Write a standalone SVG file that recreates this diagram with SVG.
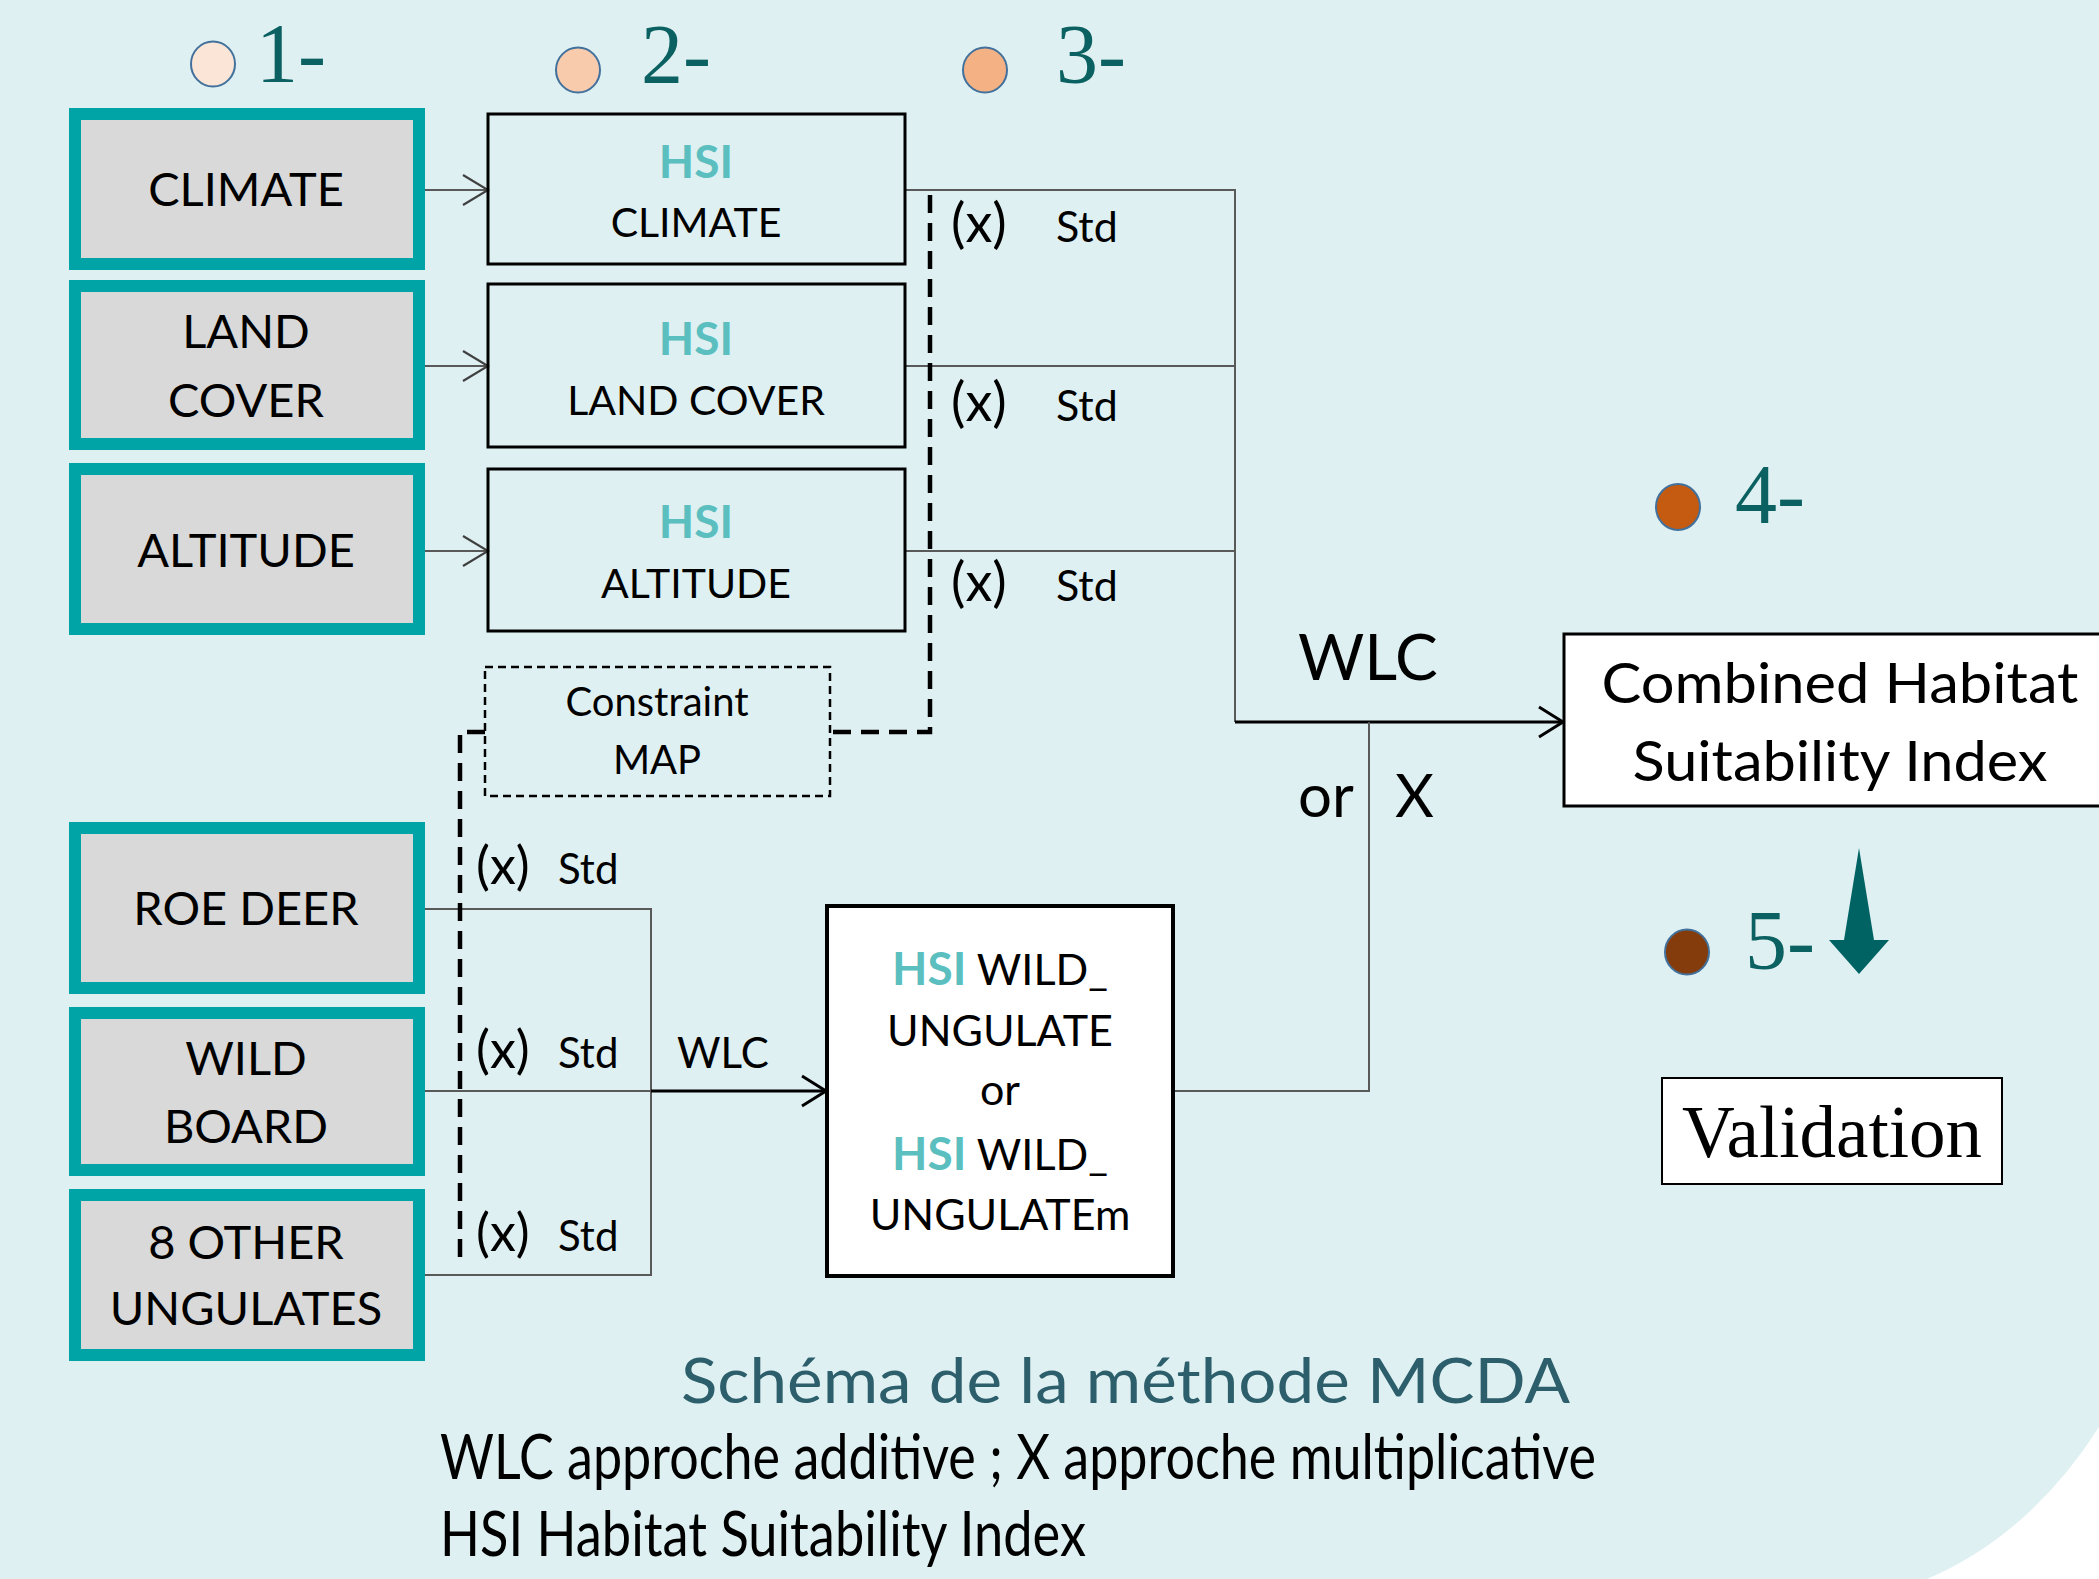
<svg xmlns="http://www.w3.org/2000/svg" width="2099" height="1579" viewBox="0 0 2099 1579">
<defs>
<style>
.src{fill:#D9D9D9;stroke:#00A4A6;stroke-width:12}
.hsi{fill:none;stroke:#000;stroke-width:3}
.t{font-family:Lato,"Open Sans",sans-serif;fill:#000;text-anchor:middle}
.tl{font-family:Lato,"Open Sans",sans-serif;fill:#000}
.teal{fill:#5BBFBF;font-weight:bold}
.num{font-family:"Liberation Serif","Times New Roman",serif;font-size:84px;fill:#0B6161}
.dot{stroke:#41719C;stroke-width:2}
.thin{fill:none;stroke:#595959;stroke-width:2}
.thick{fill:none;stroke:#000;stroke-width:3}
.dash{fill:none;stroke:#000;stroke-width:4.5;stroke-dasharray:18 10}
</style>
<marker id="chev" viewBox="0 0 30 34" refX="28" refY="17" markerWidth="30" markerHeight="34" markerUnits="userSpaceOnUse" orient="auto">
<path d="M3,2 L28,17 L3,32" fill="none" stroke="#404040" stroke-width="2.2"/>
</marker>
<marker id="chevB" viewBox="0 0 30 34" refX="27" refY="17" markerWidth="30" markerHeight="34" markerUnits="userSpaceOnUse" orient="auto">
<path d="M3,2 L27,17 L3,32" fill="none" stroke="#000" stroke-width="3"/>
</marker>
</defs>
<path d="M0,0 H2099 V1427 Q2030,1535 1927,1579 H0 Z" fill="#DFF0F2"/>

<g id="steps">
<ellipse class="dot" cx="213" cy="64" rx="22" ry="22.5" fill="#FBE5D6"/>
<text class="num" x="256" y="82">1-</text>
<ellipse class="dot" cx="578" cy="70" rx="22" ry="22.5" fill="#F8CBAD"/>
<text class="num" x="641" y="83">2-</text>
<ellipse class="dot" cx="985" cy="70" rx="22" ry="22.5" fill="#F4B183"/>
<text class="num" x="1056" y="83">3-</text>
<ellipse class="dot" cx="1678" cy="507" rx="22" ry="23" fill="#C55A11"/>
<text class="num" x="1735" y="523">4-</text>
<ellipse class="dot" cx="1687" cy="952" rx="22" ry="22.5" fill="#843C0C"/>
<text class="num" x="1745" y="969">5-</text>
<polygon points="1859,848 1874,940 1889,940 1859,974 1829,940 1844,940" fill="#006363"/>
</g>

<g id="connectors">
<line class="thin" x1="421" y1="190" x2="488" y2="190" marker-end="url(#chev)"/>
<line class="thin" x1="421" y1="366" x2="488" y2="366" marker-end="url(#chev)"/>
<line class="thin" x1="421" y1="551" x2="488" y2="551" marker-end="url(#chev)"/>
<polyline class="thin" points="905,190 1235,190 1235,722"/>
<line class="thin" x1="905" y1="366" x2="1235" y2="366"/>
<line class="thin" x1="905" y1="551" x2="1235" y2="551"/>
<line class="thick" x1="1235" y1="722" x2="1563" y2="722" marker-end="url(#chevB)"/>
<polyline class="thin" points="1369,722 1369,1091 1173,1091"/>
<polyline class="thin" points="422,909 651,909 651,1275 422,1275"/>
<line class="thin" x1="422" y1="1091" x2="651" y2="1091"/>
<line class="thick" x1="651" y1="1091" x2="826" y2="1091" marker-end="url(#chevB)"/>
<polyline class="dash" points="930,195 930,732 830,732"/>
<polyline class="dash" points="485,732 460,732 460,1260"/>
</g>

<g id="labels">
<text class="tl" x="951" y="242" font-size="54">(x)</text><text class="tl" x="1056" y="242" font-size="43">Std</text>
<text class="tl" x="951" y="421" font-size="54">(x)</text><text class="tl" x="1056" y="421" font-size="43">Std</text>
<text class="tl" x="951" y="601" font-size="54">(x)</text><text class="tl" x="1056" y="601" font-size="43">Std</text>
<text class="tl" x="476" y="884" font-size="52">(x)</text><text class="tl" x="558" y="884" font-size="42">Std</text>
<text class="tl" x="476" y="1068" font-size="52">(x)</text><text class="tl" x="558" y="1068" font-size="42">Std</text>
<text class="tl" x="476" y="1251" font-size="52">(x)</text><text class="tl" x="558" y="1251" font-size="42">Std</text>
<text class="tl" x="677" y="1068" font-size="42">WLC</text>
<text class="tl" x="1298" y="680" font-size="64">WLC</text>
<text class="tl" x="1298" y="817" font-size="60">or</text>
<text class="tl" x="1395" y="817" font-size="60">X</text>
</g>

<g id="climate"><rect class="src" x="75" y="114" width="344" height="150"/><text class="t" x="246" y="206" font-size="47">CLIMATE</text></g>
<g id="landcover"><rect class="src" x="75" y="286" width="344" height="158"/><text class="t" x="246" y="348" font-size="47">LAND</text><text class="t" x="246" y="417" font-size="47">COVER</text></g>
<g id="altitude"><rect class="src" x="75" y="469" width="344" height="160"/><text class="t" x="246" y="567" font-size="47">ALTITUDE</text></g>
<g id="roedeer"><rect class="src" x="75" y="828" width="344" height="160"/><text class="t" x="246" y="925" font-size="47">ROE DEER</text></g>
<g id="wildboard"><rect class="src" x="75" y="1013" width="344" height="157"/><text class="t" x="246" y="1075" font-size="47">WILD</text><text class="t" x="246" y="1143" font-size="47">BOARD</text></g>
<g id="otherungulates"><rect class="src" x="75" y="1195" width="344" height="160"/><text class="t" x="246" y="1259" font-size="47">8 OTHER</text><text class="t" x="246" y="1325" font-size="47">UNGULATES</text></g>

<g id="hsiclimate"><rect class="hsi" x="488" y="114" width="417" height="150"/><text class="t teal" x="696" y="178" font-size="46">HSI</text><text class="t" x="696" y="237" font-size="41">CLIMATE</text></g>
<g id="hsilandcover"><rect class="hsi" x="488" y="284" width="417" height="163"/><text class="t teal" x="696" y="355" font-size="46">HSI</text><text class="t" x="696" y="415" font-size="41">LAND COVER</text></g>
<g id="hsialtitude"><rect class="hsi" x="488" y="469" width="417" height="162"/><text class="t teal" x="696" y="538" font-size="46">HSI</text><text class="t" x="696" y="598" font-size="41">ALTITUDE</text></g>

<g id="constraint"><rect x="485" y="667" width="345" height="129" fill="none" stroke="#000" stroke-width="2.5" stroke-dasharray="8 5"/><text class="t" x="657" y="716" font-size="40">Constraint</text><text class="t" x="657" y="774" font-size="40">MAP</text></g>

<g id="hsiwild"><rect x="827" y="906" width="346" height="370" fill="#fff" stroke="#000" stroke-width="4"/>
<text class="t" x="1000" y="985" font-size="43"><tspan class="teal" font-size="46">HSI</tspan> WILD_</text>
<text class="t" x="1000" y="1046" font-size="43">UNGULATE</text>
<text class="t" x="1000" y="1105" font-size="43">or</text>
<text class="t" x="1000" y="1170" font-size="43"><tspan class="teal" font-size="46">HSI</tspan> WILD_</text>
<text class="t" x="1000" y="1230" font-size="43">UNGULATEm</text>
</g>

<g id="combined"><rect x="1564" y="634" width="560" height="172" fill="#fff" stroke="#000" stroke-width="3"/><text class="t" x="1840" y="703" font-size="57" textLength="477" lengthAdjust="spacingAndGlyphs">Combined Habitat</text><text class="t" x="1840" y="781" font-size="57" textLength="415" lengthAdjust="spacingAndGlyphs">Suitability Index</text></g>

<g id="validation"><rect x="1662" y="1078" width="340" height="106" fill="#fff" stroke="#000" stroke-width="2"/><text x="1832" y="1157" font-family="'Liberation Serif','Times New Roman',serif" font-size="73" text-anchor="middle">Validation</text></g>

<g id="caption">
<text x="681" y="1403" font-family="Lato,'Open Sans',sans-serif" font-size="62" fill="#2C5F6B" textLength="889" lengthAdjust="spacingAndGlyphs">Schéma de la méthode MCDA</text>
<text x="440" y="1479" font-family="Lato,'Open Sans',sans-serif" font-size="62" fill="#000" textLength="1156" lengthAdjust="spacingAndGlyphs">WLC approche additive ; X approche multiplicative</text>
<text x="440" y="1556" font-family="Lato,'Open Sans',sans-serif" font-size="62" fill="#000" textLength="646" lengthAdjust="spacingAndGlyphs">HSI Habitat Suitability Index</text>
</g>
</svg>
